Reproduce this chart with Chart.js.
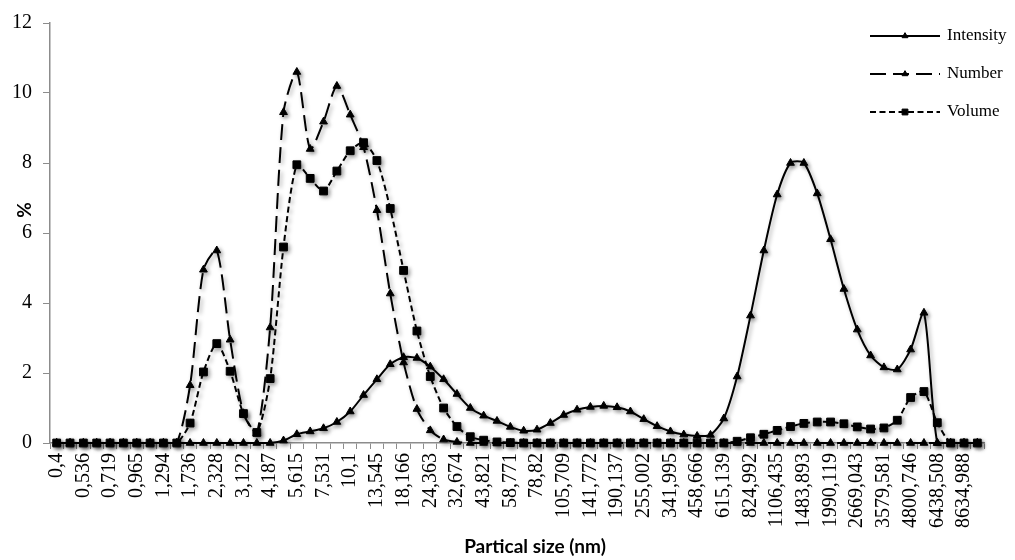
<!DOCTYPE html>
<html>
<head>
<meta charset="utf-8">
<title>Particle size distribution</title>
<script src="https://cdn.jsdelivr.net/npm/chart.js"></script>
<style>
  html, body { margin: 0; padding: 0; background: #fff; }
  #wrap { width: 1015px; height: 560px; }
</style>
</head>
<body>
<div id="wrap"><canvas id="psd" width="1015" height="560"></canvas></div>
<script>
// size classes (nm), every other one gets a label on the axis
const sizes = [
  '0,4', '0,463', '0,536', '0,621', '0,719', '0,833', '0,965', '1,117', '1,294', '1,499',
  '1,736', '2,01', '2,328', '2,696', '3,122', '3,615', '4,187', '4,849', '5,615', '6,503',
  '7,531', '8,721', '10,1', '11,7', '13,545', '15,688', '18,166', '21,037', '24,363', '28,212',
  '32,674', '37,832', '43,821', '50,734', '58,771', '68,033', '78,82', '91,282', '105,709', '122,406',
  '141,772', '164,186', '190,137', '220,196', '255,002', '295,297', '341,995', '396,105', '458,666', '531,17',
  '615,139', '712,393', '824,992', '955,425', '1106,435', '1281,225', '1483,893', '1718,2', '1990,119', '2304,11',
  '2669,043', '3090,993', '3579,581', '4145,379', '4800,746', '5559,6', '6438,508', '7456,541', '8634,988', '10000'
];

const intensity = [
  0, 0, 0, 0, 0, 0, 0, 0, 0, 0,
  0, 0, 0, 0, 0, 0, 0, 0.07, 0.25, 0.33,
  0.42, 0.6, 0.9, 1.37, 1.82, 2.25, 2.45, 2.43, 2.18, 1.82,
  1.4, 1.0, 0.78, 0.63, 0.46, 0.35, 0.38, 0.57, 0.8, 0.95,
  1.03, 1.06, 1.02, 0.9, 0.68, 0.48, 0.33, 0.24, 0.2, 0.23,
  0.7, 1.9, 3.64, 5.5, 7.1, 8.0, 8.0, 7.13, 5.82, 4.4,
  3.24, 2.5, 2.16, 2.1, 2.67, 3.72, 0, 0, 0, 0
];

const number = [
  0, 0, 0, 0, 0, 0, 0, 0, 0, 0,
  1.65, 4.95, 5.5, 2.95, 0.85, 0.28, 3.3, 9.45, 10.6, 8.4,
  9.18, 10.2, 9.38, 8.45, 6.65, 4.27, 2.3, 0.97, 0.36, 0.1,
  0.03, 0, 0, 0, 0, 0, 0, 0, 0, 0,
  0, 0, 0, 0, 0, 0, 0, 0, 0, 0,
  0, 0, 0, 0, 0, 0, 0, 0, 0, 0,
  0, 0, 0, 0, 0, 0, 0, 0, 0, 0
];

const volume = [
  0, 0, 0, 0, 0, 0, 0, 0, 0, 0,
  0.57, 2.03, 2.84, 2.05, 0.84, 0.3, 1.84, 5.6, 7.95, 7.56,
  7.2, 7.77, 8.35, 8.58, 8.07, 6.7, 4.93, 3.2, 1.9, 1.0,
  0.47, 0.18, 0.08, 0.03, 0.01, 0, 0, 0, 0, 0,
  0, 0, 0, 0, 0, 0, 0, 0, 0, 0,
  0, 0.05, 0.15, 0.25, 0.36, 0.47, 0.56, 0.6, 0.6, 0.55,
  0.46, 0.4, 0.43, 0.65, 1.3, 1.47, 0.58, 0, 0, 0
];

const yTicks = [0, 2, 4, 6, 8, 10, 12];

const AXIS_GREY = '#8c8c8c';
const SERIF = 'Liberation Serif';
const SANS_BOLD = 'bold 19px Lato';

Chart.defaults.font.family = SERIF;
Chart.defaults.color = '#000';

// soft drop shadow under the series lines and markers
const lineShadow = {
  id: 'lineShadow',
  beforeDatasetsDraw(chart) {
    const ctx = chart.ctx;
    ctx.save();
    ctx.shadowColor = 'rgba(0,0,0,0.35)';
    ctx.shadowBlur = 4;
    ctx.shadowOffsetX = 2;
    ctx.shadowOffsetY = 2;
  },
  afterDatasetsDraw(chart) {
    chart.ctx.restore();
  }
};

// legend in the top right corner: line sample with the marker in the middle
const cornerLegend = {
  id: 'cornerLegend',
  afterDraw(chart) {
    const { ctx, chartArea } = chart;
    const x0 = chartArea.right - 114;
    const len = 70;
    ctx.save();
    chart.data.datasets.forEach((ds, i) => {
      const y = chartArea.top + 13 + i * 38;
      ctx.strokeStyle = ds.borderColor;
      ctx.fillStyle = ds.borderColor;
      ctx.lineWidth = ds.borderWidth;
      ctx.setLineDash(ds.borderDash || []);
      ctx.beginPath();
      ctx.moveTo(x0, y);
      ctx.lineTo(x0 + len, y);
      ctx.stroke();
      ctx.setLineDash([]);
      ctx.lineWidth = 1;
      Chart.helpers.drawPoint(ctx, {
        pointStyle: ds.pointStyle, rotation: 0, radius: ds.pointRadius * 0.75, borderWidth: 1
      }, x0 + len / 2, y);
      ctx.fillStyle = '#000';
      ctx.font = '17px "' + SERIF + '"';
      ctx.textAlign = 'left';
      ctx.textBaseline = 'middle';
      ctx.fillText(ds.label, x0 + len + 7, y);
    });
    ctx.restore();
  }
};

// axis titles
const axisTitles = {
  id: 'axisTitles',
  afterDraw(chart) {
    const { ctx, chartArea } = chart;
    ctx.save();
    ctx.fillStyle = '#000';
    ctx.font = SANS_BOLD;
    ctx.textAlign = 'center';
    ctx.textBaseline = 'middle';
    ctx.fillText('Partical size (nm)', (chartArea.left + chartArea.right) / 2 + 18, chart.height - 13);
    ctx.translate(chartArea.left - 25, chartArea.top + 187);
    ctx.rotate(-Math.PI / 2);
    ctx.fillText('%', 0, 0);
    ctx.restore();
  }
};

const series = (label, data, dash, style, radius) => ({
  label,
  data,
  borderColor: '#000',
  backgroundColor: '#000',
  borderWidth: 2,
  borderDash: dash,
  pointStyle: style,
  pointRadius: radius,
  pointHoverRadius: radius,
  pointBorderWidth: 1,
  pointBackgroundColor: '#000',
  pointBorderColor: '#000',
  tension: 0.25,
  clip: false
});

new Chart(document.getElementById('psd'), {
  type: 'line',
  data: {
    labels: sizes,
    datasets: [
      series('Intensity', intensity, [], 'triangle', 4.5),
      series('Number', number, [16, 7], 'triangle', 4.5),
      series('Volume', volume, [6, 3.5], 'rect', 5.5)
    ]
  },
  options: {
    responsive: false,
    animation: false,
    layout: { padding: { left: 1, right: 31, top: 23, bottom: 28 } },
    plugins: {
      legend: { display: false },
      tooltip: { enabled: false }
    },
    scales: {
      x: {
        offset: true,
        grid: {
          offset: true,
          drawOnChartArea: false,
          drawTicks: true,
          tickLength: 6,
          color: AXIS_GREY,
          lineWidth: 1
        },
        border: { color: AXIS_GREY, width: 1.5 },
        ticks: {
          autoSkip: false,
          maxRotation: 90,
          minRotation: 90,
          padding: 4,
          color: '#000',
          font: { family: SERIF, size: 20 },
          callback: (v, i) => (i % 2 === 0 ? sizes[i] : '')
        }
      },
      y: {
        min: 0,
        max: 12,
        afterBuildTicks: axis => { axis.ticks = yTicks.map(v => ({ value: v })); },
        grid: {
          drawOnChartArea: false,
          drawTicks: true,
          tickLength: 7,
          color: AXIS_GREY,
          lineWidth: 1
        },
        border: { color: AXIS_GREY, width: 1.5 },
        ticks: {
          padding: 11,
          color: '#000',
          font: { family: SERIF, size: 20 }
        }
      }
    }
  },
  plugins: [lineShadow, cornerLegend, axisTitles]
});
</script>
</body>
</html>
